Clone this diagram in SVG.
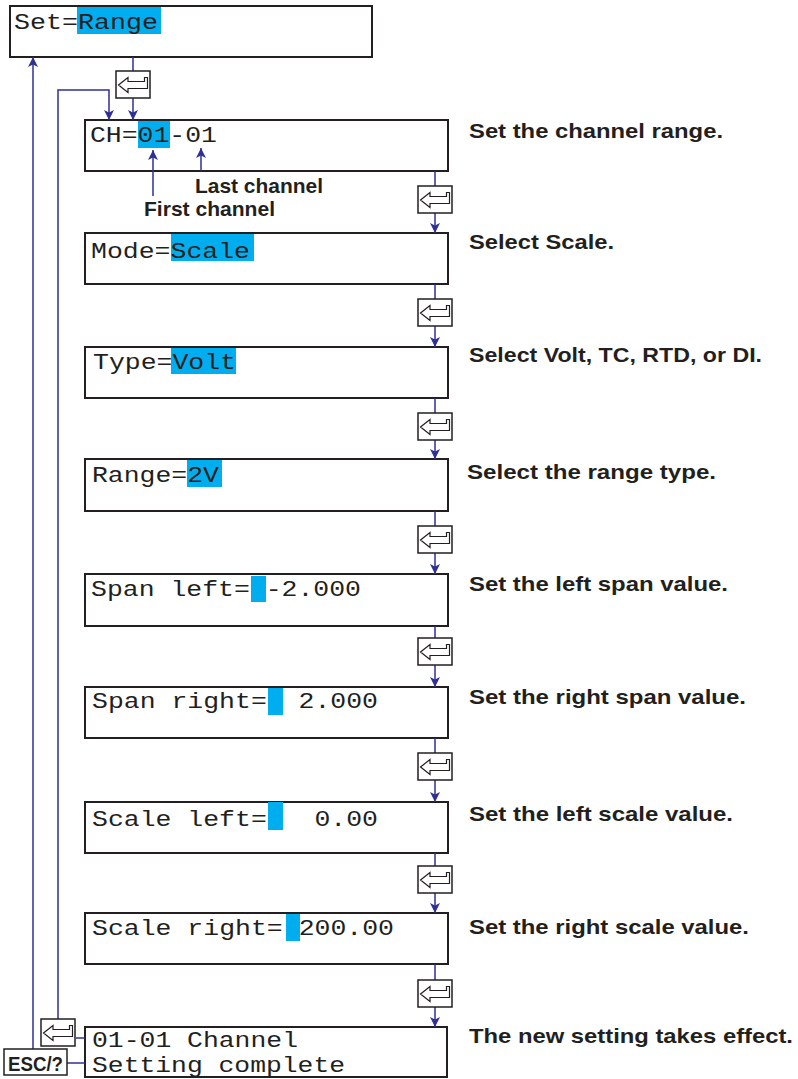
<svg xmlns="http://www.w3.org/2000/svg" width="798" height="1079" viewBox="0 0 798 1079">
<style>
.box{fill:#fff;stroke:#231f20;stroke-width:2}
.hl{fill:#00aeef}
.mono{font-family:"Liberation Mono","DejaVu Sans Mono",monospace;font-size:22px;fill:#231f20;white-space:pre}
.lbl{font-family:"Liberation Sans",Arial,sans-serif;font-weight:bold;font-size:21px;fill:#231f20}
.con{fill:none;stroke:#2e3192;stroke-width:1.5}
.key{fill:#fff;stroke:#231f20;stroke-width:1.5}
.glyph{fill:#fff;stroke:#231f20;stroke-width:1.2;stroke-linejoin:miter}
</style>
<defs>
<marker id="arr" markerUnits="userSpaceOnUse" markerWidth="10" markerHeight="10" viewBox="0 0 10 10" refX="10" refY="5" orient="auto">
<path d="M0,0 L10,5 L0,10 L2.5,5 z" fill="#2e3192"/>
</marker>
<g id="enter">
<rect class="key" x="0" y="0" width="34" height="27"/>
<path class="glyph" d="M2.5,14 L12,6.5 L12,10.5 L28.5,10.5 L28.5,6.5 L31.5,6.5 L31.5,17.5 L12,17.5 L12,21.5 Z"/>
</g>
</defs>

<g id="n-set">
<rect class="box" x="10" y="6" width="362" height="51"/>
<rect class="hl" x="77" y="7" width="84" height="27"/>
<text class="mono" x="14" y="29" font-size="27" textLength="144" lengthAdjust="spacingAndGlyphs">Set=Range</text>
</g>

<g id="n-ch">
<rect class="box" x="85" y="120" width="363" height="51"/>
<rect class="hl" x="138" y="121" width="32" height="27"/>
<text class="mono" x="90" y="142" textLength="127" lengthAdjust="spacingAndGlyphs">CH=01-01</text>
<text class="lbl" x="195" y="193" font-size="19" textLength="128" lengthAdjust="spacingAndGlyphs">Last channel</text>
<text class="lbl" x="144" y="216" font-size="19" textLength="131" lengthAdjust="spacingAndGlyphs">First channel</text>
<text class="lbl" x="469" y="138" textLength="254" lengthAdjust="spacingAndGlyphs">Set the channel range.</text>
</g>

<g id="n-mode">
<rect class="box" x="85" y="233" width="363" height="51"/>
<rect class="hl" x="171" y="234" width="83" height="27"/>
<text class="mono" x="91" y="258" textLength="159" lengthAdjust="spacingAndGlyphs">Mode=Scale</text>
<text class="lbl" x="469" y="249" textLength="145" lengthAdjust="spacingAndGlyphs">Select Scale.</text>
</g>

<g id="n-type">
<rect class="box" x="85" y="347" width="363" height="51"/>
<rect class="hl" x="171" y="348" width="65" height="26"/>
<text class="mono" x="93" y="369" textLength="143" lengthAdjust="spacingAndGlyphs">Type=Volt</text>
<text class="lbl" x="469" y="362" textLength="293" lengthAdjust="spacingAndGlyphs">Select Volt, TC, RTD, or DI.</text>
</g>

<g id="n-range">
<rect class="box" x="85" y="459" width="363" height="52"/>
<rect class="hl" x="187" y="460" width="35" height="27"/>
<text class="mono" x="92" y="482" textLength="127" lengthAdjust="spacingAndGlyphs">Range=2V</text>
<text class="lbl" x="467" y="479" textLength="249" lengthAdjust="spacingAndGlyphs">Select the range type.</text>
</g>

<g id="n-spanl">
<rect class="box" x="85" y="574" width="363" height="52"/>
<rect class="hl" x="251" y="576" width="15" height="26"/>
<text class="mono" x="91" y="596" xml:space="preserve" textLength="270" lengthAdjust="spacingAndGlyphs">Span left= -2.000</text>
<text class="lbl" x="469" y="591" textLength="259" lengthAdjust="spacingAndGlyphs">Set the left span value.</text>
</g>

<g id="n-spanr">
<rect class="box" x="85" y="687" width="363" height="51"/>
<rect class="hl" x="268" y="688" width="15" height="27"/>
<text class="mono" x="92" y="708" xml:space="preserve" textLength="286" lengthAdjust="spacingAndGlyphs">Span right=  2.000</text>
<text class="lbl" x="469" y="704" textLength="277" lengthAdjust="spacingAndGlyphs">Set the right span value.</text>
</g>

<g id="n-scalel">
<rect class="box" x="85" y="802" width="363" height="51"/>
<rect class="hl" x="268" y="802" width="15" height="28"/>
<text class="mono" x="92" y="826" xml:space="preserve" textLength="286" lengthAdjust="spacingAndGlyphs">Scale left=   0.00</text>
<text class="lbl" x="469" y="821" textLength="264" lengthAdjust="spacingAndGlyphs">Set the left scale value.</text>
</g>

<g id="n-scaler">
<rect class="box" x="85" y="913" width="363" height="51"/>
<rect class="hl" x="286" y="914" width="14" height="27"/>
<text class="mono" x="92" y="935" xml:space="preserve" textLength="302" lengthAdjust="spacingAndGlyphs">Scale right= 200.00</text>
<text class="lbl" x="469" y="934" textLength="280" lengthAdjust="spacingAndGlyphs">Set the right scale value.</text>
</g>

<g id="n-done">
<rect class="box" x="85" y="1027" width="362" height="50"/>
<text class="mono" x="92" y="1047" textLength="206" lengthAdjust="spacingAndGlyphs">01-01 Channel</text>
<text class="mono" x="92" y="1072" textLength="253" lengthAdjust="spacingAndGlyphs">Setting complete</text>
<text class="lbl" x="469" y="1043" textLength="324" lengthAdjust="spacingAndGlyphs">The new setting takes effect.</text>
</g>

<g id="connectors">
<path class="con" d="M133,57 V71"/>
<path class="con" d="M133,98 V120" marker-end="url(#arr)"/>
<path class="con" d="M58,1019 V90 H109 V120" marker-end="url(#arr)"/>
<path class="con" d="M33,1049 V57" marker-end="url(#arr)"/>
<path class="con" d="M76,1038 H85"/>
<path class="con" d="M67,1063 H85"/>
<path class="con" d="M153,196 V150" marker-end="url(#arr)"/>
<path class="con" d="M201,171 V148" marker-end="url(#arr)"/>
<path class="con" d="M435,171 V186 M435,284 V299 M435,398 V413 M435,511 V526 M435,626 V638 M435,738 V753 M435,853 V866 M435,964 V980"/>
<path class="con" d="M435,213 V233" marker-end="url(#arr)"/>
<path class="con" d="M435,326 V347" marker-end="url(#arr)"/>
<path class="con" d="M435,440 V459" marker-end="url(#arr)"/>
<path class="con" d="M435,553 V574" marker-end="url(#arr)"/>
<path class="con" d="M435,665 V687" marker-end="url(#arr)"/>
<path class="con" d="M435,780 V802" marker-end="url(#arr)"/>
<path class="con" d="M435,893 V913" marker-end="url(#arr)"/>
<path class="con" d="M435,1007 V1027" marker-end="url(#arr)"/>
</g>

<g id="keys">
<use href="#enter" x="116" y="71"/>
<use href="#enter" x="418" y="186"/>
<use href="#enter" x="418" y="299"/>
<use href="#enter" x="418" y="413"/>
<use href="#enter" x="418" y="526"/>
<use href="#enter" x="418" y="638"/>
<use href="#enter" x="418" y="753"/>
<use href="#enter" x="418" y="866"/>
<use href="#enter" x="418" y="980"/>
<use href="#enter" x="41" y="1019"/>
<g id="esc">
<rect class="key" x="4" y="1049" width="63" height="26"/>
<text class="lbl" x="8" y="1071" font-size="20" textLength="55" lengthAdjust="spacingAndGlyphs">ESC/?</text>
</g>
</g>
</svg>
